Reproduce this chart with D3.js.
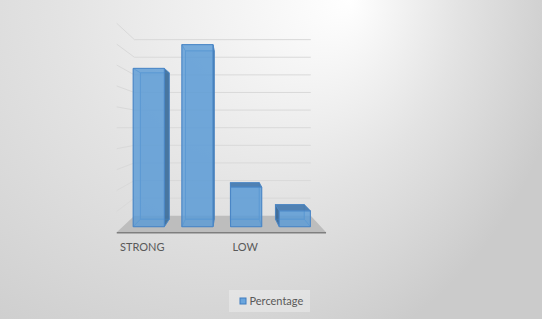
<!DOCTYPE html>
<html>
<head>
<meta charset="utf-8">
<script src="https://cdn.jsdelivr.net/npm/d3@7"></script>
<style>
  body { margin: 0; background: #d8d8d8; }
  svg { display: block; }
</style>
</head>
<body>
<script>
var categories = ["STRONG", "MODERATE", "LOW", "NONE"];
var percentage = [40, 46, 10, 4];
var yTicks = [5, 10, 15, 20, 25, 30, 35, 40, 45, 50];
var seriesName = "Percentage";

var width = 542, height = 319;

// perspective: every plane is scaled towards one vanishing point
var vp = { x: 229, y: 127.3 };
var depth = { floorFront: 1.056, barFront: 1, barBack: 0.925, wall: 0.89 };

function project(px, py, s) {
    return [vp.x + (px - vp.x) * s, vp.y + (py - vp.y) * s];
}

var x = d3.scaleBand()
    .domain(categories)
    .range([122.7, 320.9])
    .paddingInner(0.36)
    .paddingOuter(0.216);

var y = d3.scaleLinear()
    .domain([0, 50])
    .range([226.7, 28.8]);

var svg = d3.select("body").append("svg")
    .attr("width", width)
    .attr("height", height);

var defs = svg.append("defs");
var bg = defs.append("radialGradient")
    .attr("id", "bg")
    .attr("gradientUnits", "userSpaceOnUse")
    .attr("cx", 170).attr("cy", 0).attr("r", 400)
    .attr("fx", 350).attr("fy", 0);
bg.append("stop").attr("offset", 0).attr("stop-color", "#ffffff");
bg.append("stop").attr("offset", 0.5).attr("stop-color", "#e3e3e3");
bg.append("stop").attr("offset", 1).attr("stop-color", "#cbcbcb");

svg.append("rect")
    .attr("width", width)
    .attr("height", height)
    .attr("fill", "url(#bg)");

var x0 = x.range()[0], x1 = x.range()[1];

// floor
var floorPts = [
    project(x0, y(0), depth.floorFront),
    project(x1, y(0), depth.floorFront),
    project(x1, y(0), depth.wall),
    project(x0, y(0), depth.wall)
];
svg.append("polygon")
    .attr("points", floorPts.map(function (p) { return p.join(","); }).join(" "))
    .attr("fill", "#bdbdbd");

svg.append("line")
    .attr("x1", floorPts[0][0]).attr("y1", floorPts[0][1] + 0.5)
    .attr("x2", floorPts[1][0]).attr("y2", floorPts[1][1] + 0.5)
    .attr("stroke", "#7f7f7f")
    .attr("stroke-width", 1.5);

// gridlines on back wall and side wall
var grid = svg.append("g")
    .attr("stroke", "#d9d9d9")
    .attr("stroke-width", 1)
    .attr("fill", "none");

grid.selectAll(".back")
    .data(yTicks)
    .enter().append("line")
    .attr("class", "back")
    .attr("x1", function (t) { return project(x0, y(t), depth.wall)[0]; })
    .attr("y1", function (t) { return project(x0, y(t), depth.wall)[1]; })
    .attr("x2", function (t) { return project(x1, y(t), depth.wall)[0]; })
    .attr("y2", function (t) { return project(x1, y(t), depth.wall)[1]; });

grid.selectAll(".side")
    .data(yTicks)
    .enter().append("line")
    .attr("class", "side")
    .attr("x1", function (t) { return project(x0, y(t), depth.floorFront)[0]; })
    .attr("y1", function (t) { return project(x0, y(t), depth.floorFront)[1]; })
    .attr("x2", function (t) { return project(x0, y(t), depth.wall)[0]; })
    .attr("y2", function (t) { return project(x0, y(t), depth.wall)[1]; });

// bars as see-through boxes
var edgeColor = "#4a86c6";

function poly(g, pts) {
    return g.append("polygon")
        .attr("points", pts.map(function (p) { return p.join(","); }).join(" "));
}

categories.forEach(function (c, i) {
    var bx0 = x(c), bx1 = x(c) + x.bandwidth();
    var yt = y(percentage[i]), yb = y(0);
    var F = {
        tl: project(bx0, yt, depth.barFront), tr: project(bx1, yt, depth.barFront),
        br: project(bx1, yb, depth.barFront), bl: project(bx0, yb, depth.barFront)
    };
    var B = {
        tl: project(bx0, yt, depth.barBack), tr: project(bx1, yt, depth.barBack),
        br: project(bx1, yb, depth.barBack), bl: project(bx0, yb, depth.barBack)
    };
    var g = svg.append("g").attr("stroke-linejoin", "round");

    // back face and inner edges
    poly(g, [B.tl, B.tr, B.br, B.bl])
        .attr("fill", "#5b9bd5").attr("fill-opacity", 0.25)
        .attr("stroke", edgeColor).attr("stroke-opacity", 0.7);

    var faces = [
        { pts: [F.tl, F.bl, B.bl, B.tl], show: B.tl[0] < F.tl[0], fill: "#3b6896" },
        { pts: [F.tr, F.br, B.br, B.tr], show: B.tr[0] > F.tr[0], fill: "#41719c" },
        { pts: [F.tl, F.tr, B.tr, B.tl], show: B.tl[1] < F.tl[1], fill: "#4a7cb0" },
        { pts: [F.bl, F.br, B.br, B.bl], show: false, fill: "none" }
    ];
    faces.forEach(function (f) {
        poly(g, f.pts)
            .attr("fill", f.show ? f.fill : "none")
            .attr("fill-opacity", 0.95)
            .attr("stroke", edgeColor)
            .attr("stroke-opacity", f.show ? 0.9 : 0.6)
            .attr("stroke-width", 0.8);
    });

    poly(g, [F.tl, F.tr, F.br, F.bl])
        .attr("fill", "#5b9bd5")
        .attr("fill-opacity", 0.82)
        .attr("stroke", edgeColor)
        .attr("stroke-width", 1);
});

// category labels, Excel skips every other one
svg.append("g")
    .selectAll("text")
    .data(categories.filter(function (c, i) { return i % 2 === 0; }))
    .enter().append("text")
    .attr("x", function (c) { return project(x(c) + x.bandwidth() / 2, y(0), depth.floorFront)[0] - 2; })
    .attr("y", 251)
    .attr("text-anchor", "middle")
    .attr("font-family", "Lato, 'Open Sans', sans-serif")
    .attr("font-size", 11)
    .attr("fill", "#595959")
    .text(function (c) { return c; });

// legend
var legend = svg.append("g");
legend.append("rect")
    .attr("x", 229).attr("y", 290)
    .attr("width", 81).attr("height", 22)
    .attr("fill", "#ffffff")
    .attr("fill-opacity", 0.3);
legend.append("rect")
    .attr("x", 240).attr("y", 298)
    .attr("width", 6).attr("height", 6)
    .attr("fill", "#6aa5dd")
    .attr("stroke", "#3f7cc0")
    .attr("stroke-width", 1);
legend.append("text")
    .attr("x", 249.5).attr("y", 305)
    .attr("font-family", "Lato, 'Open Sans', sans-serif")
    .attr("font-size", 11)
    .attr("fill", "#595959")
    .text(seriesName);
</script>
</body>
</html>
